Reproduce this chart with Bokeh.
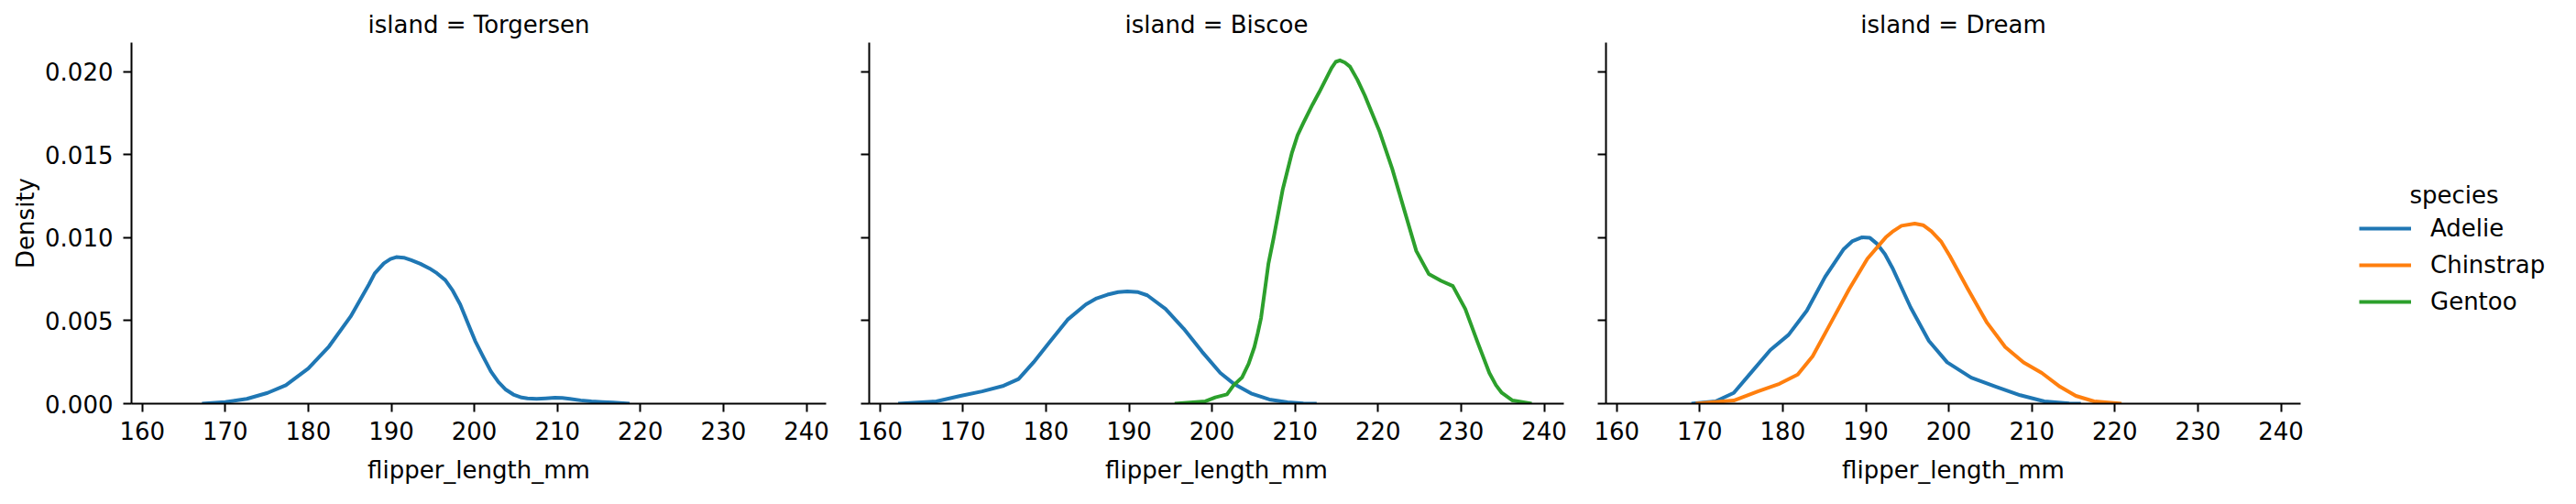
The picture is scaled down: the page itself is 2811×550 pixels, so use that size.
from bokeh.plotting import figure
from bokeh.layouts import row
from bokeh.models import (Range1d, FixedTicker, Legend, LegendItem, Label,
                          NumeralTickFormatter, CustomJSTickFormatter)
from bokeh.embed import file_html
from bokeh.resources import INLINE

# ---------------- data ----------------
islands = ["Torgersen", "Biscoe", "Dream"]
species = ["Adelie", "Chinstrap", "Gentoo"]
colors = {"Adelie": "#1f77b4", "Chinstrap": "#ff7f0e", "Gentoo": "#2ca02c"}

x_ticks = [160, 170, 180, 190, 200, 210, 220, 230, 240]
y_ticks = [0.0, 0.005, 0.010, 0.015, 0.020]

torgersen_adelie_x = [167.2, 170.0, 172.6, 175.1, 177.3, 180.0, 182.5, 185.1, 187.3, 188.0,
                      189.1, 189.9, 190.6, 191.5, 192.4, 193.5, 194.6, 195.5, 196.5, 197.4,
                      198.3, 199.2, 200.1, 201.1, 202.0, 202.9, 203.8, 204.7, 205.7, 206.4,
                      207.5, 208.6, 209.7, 210.6, 211.5, 212.8, 214.1, 215.4, 216.7, 218.7]
torgersen_adelie_y = [0.0, 0.0001, 0.00029, 0.00065, 0.00111, 0.00212, 0.00345, 0.00525, 0.00718, 0.00785,
                      0.00846, 0.00872, 0.00883, 0.0088, 0.00865, 0.00843, 0.00815, 0.00786, 0.00745, 0.00681,
                      0.00598, 0.00488, 0.00378, 0.0028, 0.00194, 0.0013, 0.00084, 0.00055, 0.00037, 0.00032,
                      0.00029, 0.00032, 0.00036, 0.00034, 0.00029, 0.0002, 0.00014, 0.0001, 0.00007, 0.0]

biscoe_adelie_x = [162.2, 166.8, 169.7, 172.3, 174.9, 176.7, 178.5, 180.4, 182.6, 184.8,
                   186.1, 187.4, 188.7, 189.8, 191.1, 192.2, 194.4, 196.6, 198.8, 201.0,
                   202.7, 204.7, 206.9, 209.1, 211.0, 212.6]
biscoe_adelie_y = [0.0, 0.00014, 0.00047, 0.00074, 0.00108, 0.00148, 0.00249, 0.00368, 0.00506, 0.00598,
                   0.00635, 0.00657, 0.00672, 0.00677, 0.00672, 0.00653, 0.00571, 0.00451, 0.00313, 0.00185,
                   0.00117, 0.00062, 0.00025, 0.00008, 0.00002, 0.0]

biscoe_gentoo_x = [195.5, 199.2, 200.4, 201.8, 202.6, 203.6, 204.4, 205.1, 205.5, 205.9,
                   206.4, 206.8, 207.4, 208.5, 209.6, 210.3, 211.0, 212.1, 212.9, 214.4,
                   214.9, 215.4, 216.0, 216.6, 217.5, 218.4, 220.2, 221.7, 223.2, 224.6,
                   226.1, 227.6, 229.0, 230.5, 232.0, 233.4, 234.2, 234.9, 236.2, 238.5]
biscoe_gentoo_y = [0.0, 0.00014, 0.00038, 0.00056, 0.00111, 0.00157, 0.0024, 0.00341, 0.00424, 0.00516,
                   0.00699, 0.00846, 0.00994, 0.01288, 0.01508, 0.01618, 0.01692, 0.01802, 0.01876, 0.02023,
                   0.0206, 0.02069, 0.02056, 0.02032, 0.01953, 0.01857, 0.01637, 0.01416, 0.01159, 0.0092,
                   0.00782, 0.0074, 0.00709, 0.00571, 0.00368, 0.00185, 0.00111, 0.00065, 0.00019, 0.0]

dream_adelie_x = [169.0, 171.9, 174.1, 176.3, 178.5, 180.7, 182.9, 185.1, 187.3, 188.4,
                  189.5, 190.5, 191.3, 192.3, 193.2, 195.4, 197.6, 199.8, 202.7, 205.7,
                  208.6, 211.5, 214.5, 215.9]
dream_adelie_y = [0.0, 0.00014, 0.00065, 0.00194, 0.00323, 0.00415, 0.00561, 0.00764, 0.00929, 0.0098,
                  0.01002, 0.00999, 0.00966, 0.00902, 0.00819, 0.0058, 0.00378, 0.00249, 0.00157, 0.00102,
                  0.00051, 0.00014, 0.00002, 0.0]

dream_chinstrap_x = [169.5, 174.1, 177.0, 179.6, 181.8, 183.6, 185.8, 188.0, 190.2, 192.4,
                     193.2, 194.3, 195.9, 196.9, 197.9, 199.1, 200.1, 202.3, 204.6, 206.8,
                     209.0, 211.2, 213.4, 215.3, 217.5, 220.8]
dream_chinstrap_y = [0.0, 0.00019, 0.00074, 0.0012, 0.00175, 0.00286, 0.00488, 0.0069, 0.00874, 0.01002,
                     0.01036, 0.01072, 0.01085, 0.01076, 0.01039, 0.00975, 0.00892, 0.0069, 0.00488, 0.00341,
                     0.00249, 0.00185, 0.00102, 0.00047, 0.00014, 0.0]

curves = {
    "Torgersen": [("Adelie", torgersen_adelie_x, torgersen_adelie_y)],
    "Biscoe": [("Adelie", biscoe_adelie_x, biscoe_adelie_y),
               ("Gentoo", biscoe_gentoo_x, biscoe_gentoo_y)],
    "Dream": [("Adelie", dream_adelie_x, dream_adelie_y),
              ("Chinstrap", dream_chinstrap_x, dream_chinstrap_y)],
}

# ---------------- styling ----------------
FONT = "DejaVu Sans"
FS = "26px"
X_RANGE = (158.71, 242.37)
Y_MAX = 0.02176
LW = 4

borders = {"Torgersen": (143, 23), "Biscoe": (24, 23), "Dream": (23, 23)}

figs = []
for isl in islands:
    left, right = borders[isl]
    p = figure(frame_width=758, frame_height=394,
               min_border_left=left, min_border_right=right,
               min_border_top=46, min_border_bottom=94,
               x_range=Range1d(*X_RANGE), y_range=Range1d(0, Y_MAX),
               output_backend="svg", toolbar_location=None,
               title=f"island = {isl}")
    p.outline_line_color = None
    p.xgrid.visible = False
    p.ygrid.visible = False

    p.title.align = "center"
    p.title.text_font = FONT
    p.title.text_font_size = FS
    p.title.text_font_style = "normal"
    p.title.text_color = "black"

    for ax in (p.xaxis[0], p.yaxis[0]):
        ax.axis_line_width = 2
        ax.axis_line_color = "black"
        ax.major_tick_line_width = 2
        ax.major_tick_line_color = "black"
        ax.major_tick_in = 0
        ax.major_tick_out = 9
        ax.minor_tick_line_color = None
        ax.major_label_text_font = FONT
        ax.major_label_text_font_size = FS
        ax.major_label_text_color = "black"
        ax.axis_label_text_font = FONT
        ax.axis_label_text_font_size = FS
        ax.axis_label_text_font_style = "normal"
        ax.axis_label_text_color = "black"

    p.xaxis.ticker = FixedTicker(ticks=x_ticks)
    p.xaxis.major_label_standoff = 10
    p.xaxis.axis_label = "flipper_length_mm"
    p.xaxis.axis_label_standoff = 15

    p.yaxis.ticker = FixedTicker(ticks=y_ticks)
    if isl == "Torgersen":
        p.yaxis.formatter = NumeralTickFormatter(format="0.000")
        p.yaxis.major_label_standoff = 11
        p.yaxis.axis_label = "Density"
        p.yaxis.axis_label_standoff = 3
    else:
        p.yaxis.formatter = CustomJSTickFormatter(code="return ''")
        p.yaxis.major_label_standoff = 0

    for sp, xs, ys in curves[isl]:
        p.line(xs, ys, line_color=colors[sp], line_width=LW, line_join="round")
    figs.append(p)

# ---------------- legend panel ----------------
pl = figure(width=262, height=534, min_border=0,
            x_range=Range1d(0, 1), y_range=Range1d(0, 1),
            x_axis_location=None, y_axis_location=None,
            output_backend="svg", toolbar_location=None)
pl.outline_line_color = None
pl.grid.visible = False
nan = float("nan")
items = []
for sp in species:
    r = pl.line([nan], [nan], line_color=colors[sp], line_width=LW)
    items.append(LegendItem(label=sp, renderers=[r]))
legend = Legend(items=items, location=(41, 96), padding=0, margin=0, spacing=10,
                glyph_width=57, glyph_height=30, label_standoff=21,
                label_text_font=FONT, label_text_font_size=FS, label_text_color="black",
                border_line_alpha=0, background_fill_alpha=0)
pl.add_layout(legend, "center")
pl.add_layout(Label(x=144.5, y=228, x_units="screen", y_units="screen", text="species",
                    text_align="center", text_baseline="alphabetic",
                    text_font=FONT, text_font_size=FS, text_color="black"))
figs.append(pl)

layout = row(*figs, spacing=0)
open("out.html", "w").write(file_html(layout, INLINE))
